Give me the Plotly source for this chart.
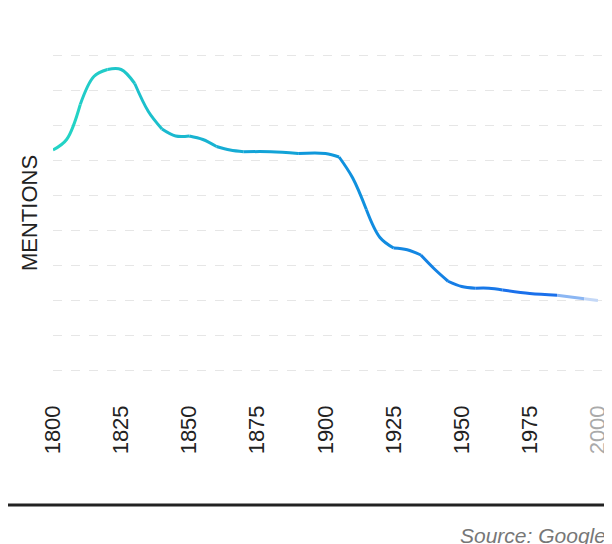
import plotly.graph_objects as go

years = [1800, 1805, 1810, 1815, 1820, 1825, 1830, 1835, 1840, 1845, 1850, 1855, 1860, 1865,
         1870, 1880, 1890, 1900, 1905, 1910, 1915, 1920, 1925, 1930, 1935, 1940, 1945, 1950,
         1955, 1960, 1965, 1975, 1985, 1995, 2000]
mentions = [6.3, 6.6, 7.6, 8.4, 8.6, 8.6, 8.2, 7.4, 6.9, 6.7, 6.7, 6.6, 6.4, 6.3,
            6.25, 6.25, 6.2, 6.2, 6.1, 5.5, 4.6, 3.8, 3.5, 3.45, 3.3, 2.9, 2.55, 2.4,
            2.35, 2.35, 2.3, 2.2, 2.15, 2.05, 2.0]
tick_years = [1800, 1825, 1850, 1875, 1900, 1925, 1950, 1975, 2000]


def mix(c1, c2, t):
    return "rgba(%d,%d,%d,%.2f)" % tuple(
        [round(c1[k] + (c2[k] - c1[k]) * t) for k in range(3)] + [c1[3] + (c2[3] - c1[3]) * t])


stops = [(1800, (36, 214, 196, 1)), (1900, (14, 150, 220, 1)),
         (1975, (26, 112, 235, 1)), (2000, (215, 228, 248, 1))]


def color_at(yr):
    for (a, ca), (b, cb) in zip(stops, stops[1:]):
        if yr <= b:
            return mix(ca, cb, (yr - a) / (b - a))
    return mix(stops[-1][1], stops[-1][1], 1)


fig = go.Figure()
i = 0
while i < len(years) - 1:
    j = min(i + 2, len(years) - 1)
    if years[i] >= 1975:
        j = i + 1
    fig.add_trace(go.Scatter(
        x=years[i:j + 1], y=mentions[i:j + 1], mode="lines",
        line=dict(color=color_at((years[i] + years[j]) / 2), width=3, shape="spline", smoothing=1),
        hoverinfo="skip", showlegend=False))
    i = j

ticktext = [str(y) for y in tick_years[:-1]] + ["<span style='color:#aaaaaa'>2000</span>"]

fig.update_layout(
    width=612, height=544,
    margin=dict(l=45, r=12, t=30, b=164, autoexpand=False),
    plot_bgcolor="white", paper_bgcolor="white",
    font=dict(family="Liberation Sans, Arial", size=22, color="#222"),
    xaxis=dict(range=[1800, 2003.7], tickvals=tick_years, ticktext=ticktext,
               tickangle=-90, showgrid=False, zeroline=False, showline=False,
               ticks="", ticklabelstandoff=12, automargin=False),
    yaxis=dict(range=[-0.5, 9.5], tickvals=list(range(10)), showticklabels=False,
               gridcolor="#e6e6e6", griddash="dash", gridwidth=1, zeroline=False,
               automargin=False,
               title=dict(text="MENTIONS", standoff=8, font=dict(size=22))),
    shapes=[dict(type="line", xref="paper", yref="paper", x0=-0.2, x1=1.1,
                 y0=-0.334, y1=-0.334, line=dict(color="#222", width=3))],
    annotations=[dict(text="<i>Source: Google</i>", xref="paper", yref="paper",
                      x=1.0, y=-0.42, xanchor="right", yanchor="middle", showarrow=False,
                      font=dict(size=21, color="#777"))],
)

fig.write_html("out.html")
